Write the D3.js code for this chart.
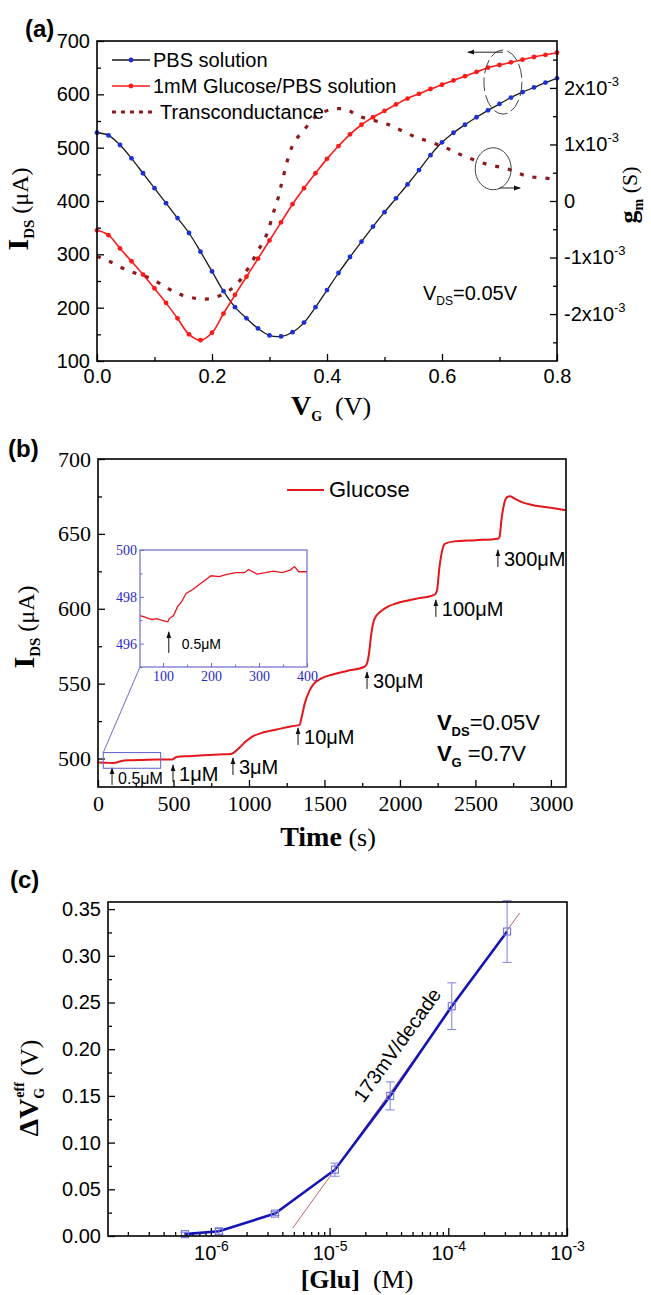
<!DOCTYPE html>
<html>
<head>
<meta charset="utf-8">
<script src="https://cdn.jsdelivr.net/npm/d3@7"></script>
<style>
  body { margin: 0; background: #fff; }
  svg text { font-family: Arial, "Liberation Sans", sans-serif; fill: #000; }
  .axis line { stroke: #000; stroke-width: 1.3; }
  .axis text { font-family: Arial, "Liberation Sans", sans-serif; font-size: 20px; }
  .axis.serif text { font-family: "Liberation Serif", "Times New Roman", serif; font-size: 22px; }
  .axis.inset line { stroke: #6c6cd0; stroke-width: 1; }
  .axis.inset text { font-family: "Liberation Serif", "Times New Roman", serif; font-size: 14px; fill: #2b2bc8; }
  .frame { fill: none; stroke: #000; stroke-width: 1.6; }
  .tnr { font-family: "Liberation Serif", "Times New Roman", serif; }
</style>
</head>
<body>
<svg id="fig" width="651" height="1295"></svg>
<script>
// ---------- panel (a) data: transfer curves ----------
var gateV = [0.00, 0.02, 0.04, 0.06, 0.08, 0.10, 0.12, 0.14, 0.16, 0.18, 0.20,
  0.22, 0.24, 0.26, 0.28, 0.30, 0.32, 0.34, 0.36, 0.38, 0.40,
  0.42, 0.44, 0.46, 0.48, 0.50, 0.52, 0.54, 0.56, 0.58, 0.60,
  0.62, 0.64, 0.66, 0.68, 0.70, 0.72, 0.74, 0.76, 0.78, 0.80]
var pbsIds = [528, 523, 505, 480, 452, 424, 396, 368, 340, 305, 268,
  231, 201, 180, 161, 148, 146, 154, 172, 201, 233,
  265, 295, 324, 352, 379, 405, 431, 458, 486, 510,
  528, 543, 557, 570, 582, 594, 604, 613, 622, 630]
var glucoseIds = [345, 336, 311, 287, 262, 236, 209, 180, 150, 139, 153,
  189, 224, 258, 292, 326, 360, 394, 424, 452, 479,
  503, 525, 543, 557, 569, 581, 592, 601, 610, 618,
  626, 634, 642, 650, 655, 660, 665, 670, 674, 678]
var gmV = [0.00, 0.02, 0.045, 0.07, 0.096, 0.122, 0.144, 0.17, 0.193, 0.219,
  0.243, 0.263, 0.28, 0.296, 0.306, 0.315, 0.323, 0.341, 0.362, 0.381,
  0.408, 0.433, 0.456, 0.504, 0.55, 0.60, 0.637, 0.678, 0.713, 0.748, 0.788, 0.80]
var gmS = [-0.98e-3, -1.06e-3, -1.19e-3, -1.29e-3, -1.38e-3, -1.54e-3, -1.65e-3, -1.72e-3, -1.73e-3, -1.65e-3,
  -1.47e-3, -1.19e-3, -0.88e-3, -0.57e-3, -0.23e-3, 0.05e-3, 0.39e-3, 1.0e-3, 1.28e-3, 1.5e-3,
  1.62e-3, 1.62e-3, 1.5e-3, 1.36e-3, 1.15e-3, 0.97e-3, 0.8e-3, 0.65e-3, 0.57e-3, 0.44e-3, 0.39e-3, 0.34e-3]
var legendA = ['PBS solution', '1mM Glucose/PBS solution', 'Transconductance']
var vgTicks = [0, 0.2, 0.4, 0.6, 0.8]
var vgMinor = [0.1, 0.3, 0.5, 0.7]
var idsTicksA = [100, 200, 300, 400, 500, 600, 700]
var idsMinorA = [150, 250, 350, 450, 550, 650]
var gmTicks = [-2e-3, -1e-3, 0, 1e-3, 2e-3]
var gmMinor = [-2.5e-3, -1.5e-3, -0.5e-3, 0.5e-3, 1.5e-3, 2.5e-3]

// ---------- panel (b) data: time response ----------
var timeS = [0, 50, 100, 115, 150, 200, 300, 400, 490, 500,
  520, 600, 700, 800, 880, 900, 940, 980, 1020, 1080,
  1130, 1200, 1300, 1335, 1350, 1370, 1400, 1430, 1480, 1550,
  1650, 1765, 1780, 1795, 1810, 1830, 1870, 1920, 1980, 2100,
  2230, 2245, 2262, 2280, 2300, 2360, 2500, 2650, 2660, 2672,
  2690, 2710, 2730, 2760, 2800, 2900, 3000, 3100]
var idsTrace = [497.3, 497.2, 497.0, 497.2, 498.2, 498.8, 499.1, 499.3, 499.3, 499.8,
  501.0, 501.6, 502.2, 502.7, 503.0, 504.0, 507.5, 511.5, 514.5, 517.0,
  518.3, 519.8, 521.8, 522.5, 528, 537, 545, 550, 553.5, 556,
  558.5, 561.3, 563, 570, 583, 593, 598, 601.5, 603.7, 606.5,
  609.5, 612, 628, 639, 643.5, 645, 645.8, 646.8, 648, 659,
  670, 674.5, 675.2, 673.5, 671.5, 668.8, 667.5, 665.8]
var insetT = [52, 61, 70, 78, 87, 96, 104, 110, 113, 122, 130, 139, 148, 161, 174,
  187, 200, 217, 235, 252, 270, 278, 296, 313, 330, 348, 365, 374, 383, 400]
var insetI = [497.2, 497.14, 497.07, 497.03, 497.07, 497.0, 496.96, 496.93, 497.07, 497.2,
  497.57, 497.8, 498.14, 498.3, 498.5, 498.7, 498.9, 498.86, 498.97, 499.03,
  499.03, 499.17, 498.97, 499.03, 499.1, 499.03, 499.14, 499.29, 499.07, 499.07]
var doses = ['0.5μM', '1μM', '3μM', '10μM', '30μM', '100μM', '300μM']
var doseT = [93, 497, 894, 1325, 1782, 2238, 2649]
var doseTip = [493.7, 495.7, 500.4, 520.4, 557.8, 605.9, 639.2]
var timeTicks = [0, 500, 1000, 1500, 2000, 2500, 3000]
var timeMinor = [250, 750, 1250, 1750, 2250, 2750]
var idsTicksB = [500, 550, 600, 650, 700]
var idsMinorB = [525, 575, 625, 675]
var insetTTicks = [100, 200, 300, 400]
var insetTMinor = [150, 250, 350]
var insetITicks = [496, 498, 500]
var insetIMinor = [495, 497, 499]

// ---------- panel (c) data: dV_G^eff vs [Glu] ----------
var gluM = [6.05e-7, 1.17e-6, 3.47e-6, 1.11e-5, 3.24e-5, 1.07e-4, 3.13e-4]
var dVeff = [0.002, 0.005, 0.024, 0.071, 0.150, 0.246, 0.326]
var dVerr = [0.002, 0.003, 0.002, 0.007, 0.015, 0.025, 0.033]
var fitM = [4.9e-6, 4.0e-4]
var fitDV = [0.0086, 0.346]
var dvTicks = [0, 0.05, 0.10, 0.15, 0.20, 0.25, 0.30, 0.35]
var dvMinor = [0.025, 0.075, 0.125, 0.175, 0.225, 0.275, 0.325]
var gluTicks = [1e-6, 1e-5, 1e-4, 1e-3]

var svg = d3.select('#fig')

var defs = svg.append('defs')
defs.append('marker').attr('id', 'head')
  .attr('viewBox', '0 0 10 10').attr('refX', 9).attr('refY', 5)
  .attr('markerWidth', 7).attr('markerHeight', 7).attr('orient', 'auto')
  .append('path').attr('d', 'M0,1.5L10,5L0,8.5Z').attr('fill', '#111')

function noDomain(g) { g.select('.domain').remove() }

function frame(g, box) {
  g.append('rect').attr('class', 'frame')
    .attr('x', box.left).attr('y', box.top)
    .attr('width', box.right - box.left).attr('height', box.bottom - box.top)
}

function withSup(text, base, sup, supSize) {
  text.text(null)
  text.append('tspan').text(base)
  text.append('tspan').attr('dy', -9).attr('font-size', supSize).text(sup)
}

function panelTag(x, y, s) {
  svg.append('text').attr('x', x).attr('y', y)
    .attr('font-size', 24).attr('font-weight', 'bold').text(s)
}

/*** PANEL (a) ***/
var A = {left: 97, right: 557, top: 41, bottom: 361}
var xA = d3.scaleLinear().domain([0, 0.8]).range([A.left, A.right])
var yA = d3.scaleLinear().domain([100, 700]).range([A.bottom, A.top])
var gmA = d3.scaleLinear().domain([-2.83e-3, 2.83e-3]).range([A.bottom, A.top])
var pa = svg.append('g')

pa.append('g').attr('class', 'axis').attr('transform', 'translate(0,' + A.bottom + ')')
  .call(d3.axisBottom(xA).tickValues(vgTicks).tickSize(-7).tickPadding(8).tickFormat(d3.format('.1f')))
  .call(noDomain)
pa.append('g').attr('class', 'axis').attr('transform', 'translate(0,' + A.bottom + ')')
  .call(d3.axisBottom(xA).tickValues(vgMinor).tickSize(-4).tickFormat(''))
  .call(noDomain)
pa.append('g').attr('class', 'axis').attr('transform', 'translate(' + A.left + ',0)')
  .call(d3.axisLeft(yA).tickValues(idsTicksA).tickSize(-7).tickPadding(7))
  .call(noDomain)
pa.append('g').attr('class', 'axis').attr('transform', 'translate(' + A.left + ',0)')
  .call(d3.axisLeft(yA).tickValues(idsMinorA).tickSize(-4).tickFormat(''))
  .call(noDomain)
pa.append('g').attr('class', 'axis').attr('transform', 'translate(' + A.right + ',0)')
  .call(d3.axisRight(gmA).tickValues(gmTicks).tickSize(-7).tickPadding(7)
    .tickFormat(function(d) { return d === 0 ? '0' : '' }))
  .call(noDomain)
  .selectAll('.tick text').each(function(d) {
    if (d !== 0) withSup(d3.select(this), Math.round(d * 1e3) + 'x10', '-3', 13)
  })
pa.append('g').attr('class', 'axis').attr('transform', 'translate(' + A.right + ',0)')
  .call(d3.axisRight(gmA).tickValues(gmMinor).tickSize(-4).tickFormat(''))
  .call(noDomain)

var pbsPts = gateV.map(function(v, i) { return [v, pbsIds[i]] })
var gluPts = gateV.map(function(v, i) { return [v, glucoseIds[i]] })
var gmPts = gmV.map(function(v, i) { return [v, gmS[i]] })

// transconductance (dotted)
pa.append('path').datum(gmPts)
  .attr('d', d3.line().curve(d3.curveCatmullRom).x(function(d) { return xA(d[0]) }).y(function(d) { return gmA(d[1]) }))
  .attr('fill', 'none').attr('stroke', '#8b1a1a').attr('stroke-width', 3.2)
  .attr('stroke-dasharray', '4,9')

var lineA = d3.line().curve(d3.curveCatmullRom)
  .x(function(d) { return xA(d[0]) }).y(function(d) { return yA(d[1]) })

pa.append('path').datum(pbsPts).attr('d', lineA)
  .attr('fill', 'none').attr('stroke', '#1a1a1a').attr('stroke-width', 1.3)
pa.append('g').selectAll('circle').data(pbsPts).join('circle')
  .attr('cx', function(d) { return xA(d[0]) }).attr('cy', function(d) { return yA(d[1]) })
  .attr('r', 2.4).attr('fill', '#1c2fd6')

pa.append('path').datum(gluPts).attr('d', lineA)
  .attr('fill', 'none').attr('stroke', '#ff1a1a').attr('stroke-width', 1.6)
pa.append('g').selectAll('circle').data(gluPts).join('circle')
  .attr('cx', function(d) { return xA(d[0]) }).attr('cy', function(d) { return yA(d[1]) })
  .attr('r', 2.4).attr('fill', '#ff1a1a')

// legend
var legA = pa.append('g')
legendA.forEach(function(name, i) {
  var ly = A.top + 19 + i * 26
  var x1 = A.left + 15, x2 = i === 2 ? A.left + 60 : A.left + 53
  var row = legA.append('g')
  if (i === 2) {
    row.append('line').attr('x1', x1).attr('x2', x2).attr('y1', ly).attr('y2', ly)
      .attr('stroke', '#8b1a1a').attr('stroke-width', 3.2).attr('stroke-dasharray', '4,5')
  } else {
    row.append('line').attr('x1', x1).attr('x2', x2).attr('y1', ly).attr('y2', ly)
      .attr('stroke', i === 0 ? '#1a1a1a' : '#ff1a1a').attr('stroke-width', 1.5)
    row.append('circle').attr('cx', (x1 + x2) / 2).attr('cy', ly).attr('r', 2.4)
      .attr('fill', i === 0 ? '#1c2fd6' : '#ff1a1a')
  }
  row.append('text').attr('x', x2 + 3).attr('y', ly + 7).attr('font-size', 20).text(name)
})

// circle + arrow annotations
pa.append('ellipse').attr('cx', xA(0.706)).attr('cy', yA(623)).attr('rx', 19).attr('ry', 32)
  .attr('fill', 'none').attr('stroke', '#444').attr('stroke-width', 1).attr('stroke-dasharray', '14,4')
pa.append('line').attr('x1', xA(0.706)).attr('x2', xA(0.645)).attr('y1', yA(679)).attr('y2', yA(679))
  .attr('stroke', '#222').attr('stroke-width', 1).attr('marker-end', 'url(#head)')
pa.append('ellipse').attr('cx', xA(0.689)).attr('cy', gmA(0.57e-3)).attr('rx', 18).attr('ry', 21)
  .attr('fill', 'none').attr('stroke', '#444').attr('stroke-width', 1)
pa.append('line').attr('x1', xA(0.700)).attr('x2', xA(0.736)).attr('y1', gmA(0.23e-3)).attr('y2', gmA(0.23e-3))
  .attr('stroke', '#222').attr('stroke-width', 1).attr('marker-end', 'url(#head)')

var vdsA = pa.append('text').attr('x', xA(0.567)).attr('y', yA(214)).attr('font-size', 20)
vdsA.append('tspan').text('V')
vdsA.append('tspan').attr('font-size', 12).attr('dy', 5).text('DS')
vdsA.append('tspan').attr('dy', -5).text('=0.05V')

frame(pa, A)

// axis titles
var xtA = pa.append('text').attr('class', 'tnr').attr('x', 331).attr('y', 415).attr('text-anchor', 'middle')
xtA.append('tspan').attr('font-size', 28).attr('font-weight', 'bold').text('V')
xtA.append('tspan').attr('font-size', 14).attr('font-weight', 'bold').attr('dy', 6).text('G')
xtA.append('tspan').attr('font-size', 26).attr('dy', -6).text('\u00a0\u00a0(V)')

var ytA = pa.append('text').attr('class', 'tnr').attr('text-anchor', 'middle')
  .attr('transform', 'translate(28,' + ((A.top + A.bottom) / 2 + 8) + ') rotate(-90)')
ytA.append('tspan').attr('font-size', 30).attr('font-weight', 'bold').text('I')
ytA.append('tspan').attr('font-size', 15).attr('font-weight', 'bold').attr('dy', 6).text('DS')
ytA.append('tspan').attr('font-size', 24).attr('dy', -6).text('\u00a0(μA)')

var gtA = pa.append('text').attr('class', 'tnr').attr('text-anchor', 'middle')
  .attr('transform', 'translate(637,' + ((A.top + A.bottom) / 2 - 6) + ') rotate(-90)')
gtA.append('tspan').attr('font-size', 26).attr('font-weight', 'bold').text('g')
gtA.append('tspan').attr('font-size', 14).attr('font-weight', 'bold').attr('dy', 6).text('m')
gtA.append('tspan').attr('font-size', 22).attr('dy', -6).text('\u00a0(S)')

panelTag(25, 37, '(a)')

/*** PANEL (b) ***/
var B = {left: 98, right: 566, top: 459, bottom: 787}
var xB = d3.scaleLinear().domain([0, 3100]).range([B.left, B.right])
var yB = d3.scaleLinear().domain([481, 700]).range([B.bottom, B.top])
var pb = svg.append('g')

pb.append('g').attr('class', 'axis serif').attr('transform', 'translate(0,' + B.bottom + ')')
  .call(d3.axisBottom(xB).tickValues(timeTicks).tickSize(-7).tickPadding(8).tickFormat(d3.format('d')))
  .call(noDomain)
pb.append('g').attr('class', 'axis').attr('transform', 'translate(0,' + B.bottom + ')')
  .call(d3.axisBottom(xB).tickValues(timeMinor).tickSize(-4).tickFormat(''))
  .call(noDomain)
pb.append('g').attr('class', 'axis serif').attr('transform', 'translate(' + B.left + ',0)')
  .call(d3.axisLeft(yB).tickValues(idsTicksB).tickSize(-7).tickPadding(7))
  .call(noDomain)
pb.append('g').attr('class', 'axis').attr('transform', 'translate(' + B.left + ',0)')
  .call(d3.axisLeft(yB).tickValues(idsMinorB).tickSize(-4).tickFormat(''))
  .call(noDomain)

var tracePts = timeS.map(function(t, i) { return [t, idsTrace[i]] })
pb.append('path').datum(tracePts)
  .attr('d', d3.line().curve(d3.curveMonotoneX).x(function(d) { return xB(d[0]) }).y(function(d) { return yB(d[1]) }))
  .attr('fill', 'none').attr('stroke', '#e3161c').attr('stroke-width', 2)

// legend
pb.append('line').attr('x1', B.left + 189).attr('x2', B.left + 226)
  .attr('y1', B.top + 31).attr('y2', B.top + 31).attr('stroke', '#e3161c').attr('stroke-width', 2)
pb.append('text').attr('x', B.left + 231).attr('y', B.top + 38).attr('font-size', 22).text('Glucose')

// dose arrows
doses.forEach(function(lab, i) {
  var ax = xB(doseT[i]), tip = yB(doseTip[i]), base = tip + 17
  pb.append('line').attr('x1', ax).attr('x2', ax).attr('y1', base).attr('y2', tip)
    .attr('stroke', '#111').attr('stroke-width', 1).attr('marker-end', 'url(#head)')
  pb.append('text').attr('x', ax + 6).attr('y', base - 1)
    .attr('font-size', i === 0 ? 16 : 20).text(lab)
})

// bias conditions
var vdsB = pb.append('text').attr('x', xB(2245)).attr('y', yB(519)).attr('font-size', 22)
vdsB.append('tspan').attr('font-weight', 'bold').text('V')
vdsB.append('tspan').attr('font-weight', 'bold').attr('font-size', 13).attr('dy', 6).text('DS')
vdsB.append('tspan').attr('dy', -6).text('=0.05V')
var vgB = pb.append('text').attr('x', xB(2245)).attr('y', yB(498.4)).attr('font-size', 22)
vgB.append('tspan').attr('font-weight', 'bold').text('V')
vgB.append('tspan').attr('font-weight', 'bold').attr('font-size', 13).attr('dy', 6).text('G')
vgB.append('tspan').attr('dy', -6).text('\u00a0=0.7V')

// zoom box and inset
var Ib = {left: 140, right: 307, top: 550, bottom: 667}
var xI = d3.scaleLinear().domain([52, 400]).range([Ib.left, Ib.right])
var yI = d3.scaleLinear().domain([495, 500]).range([Ib.bottom, Ib.top])

pb.append('rect').attr('x', xB(35)).attr('y', yB(504)).attr('width', xB(415) - xB(35))
  .attr('height', yB(493.5) - yB(504)).attr('fill', 'none').attr('stroke', '#6c6cd0').attr('stroke-width', 1.1)
pb.append('line').attr('x1', xB(35)).attr('y1', yB(504)).attr('x2', Ib.left).attr('y2', Ib.bottom)
  .attr('stroke', '#6c6cd0').attr('stroke-width', 1)

var pi = pb.append('g')
pi.append('g').attr('class', 'axis inset').attr('transform', 'translate(0,' + Ib.bottom + ')')
  .call(d3.axisBottom(xI).tickValues(insetTTicks).tickSize(-4).tickPadding(4).tickFormat(d3.format('d')))
  .call(noDomain)
pi.append('g').attr('class', 'axis inset').attr('transform', 'translate(0,' + Ib.bottom + ')')
  .call(d3.axisBottom(xI).tickValues(insetTMinor).tickSize(-2.5).tickFormat(''))
  .call(noDomain)
pi.append('g').attr('class', 'axis inset').attr('transform', 'translate(' + Ib.left + ',0)')
  .call(d3.axisLeft(yI).tickValues(insetITicks).tickSize(-4).tickPadding(3).tickFormat(d3.format('d')))
  .call(noDomain)
pi.append('g').attr('class', 'axis inset').attr('transform', 'translate(' + Ib.left + ',0)')
  .call(d3.axisLeft(yI).tickValues(insetIMinor).tickSize(-2.5).tickFormat(''))
  .call(noDomain)

var insetPts = insetT.map(function(t, i) { return [t, insetI[i]] })
pi.append('path').datum(insetPts)
  .attr('d', d3.line().x(function(d) { return xI(d[0]) }).y(function(d) { return yI(d[1]) }))
  .attr('fill', 'none').attr('stroke', '#e3161c').attr('stroke-width', 1.3)
pi.append('line').attr('x1', xI(112)).attr('x2', xI(112)).attr('y1', yI(495.6)).attr('y2', yI(496.5))
  .attr('stroke', '#111').attr('stroke-width', 1).attr('marker-end', 'url(#head)')
pi.append('text').attr('x', xI(112) + 13).attr('y', yI(495.6) - 4).attr('font-size', 14).text('0.5μM')
pi.append('rect').attr('x', Ib.left).attr('y', Ib.top).attr('width', Ib.right - Ib.left)
  .attr('height', Ib.bottom - Ib.top).attr('fill', 'none').attr('stroke', '#6c6cd0').attr('stroke-width', 1.2)

frame(pb, B)

var xtB = pb.append('text').attr('class', 'tnr').attr('x', 328).attr('y', 846).attr('text-anchor', 'middle')
xtB.append('tspan').attr('font-size', 28).attr('font-weight', 'bold').text('Time')
xtB.append('tspan').attr('font-size', 26).text('\u00a0(s)')

var ytB = pb.append('text').attr('class', 'tnr').attr('text-anchor', 'middle')
  .attr('transform', 'translate(34,' + ((B.top + B.bottom) / 2 + 4) + ') rotate(-90)')
ytB.append('tspan').attr('font-size', 30).attr('font-weight', 'bold').text('I')
ytB.append('tspan').attr('font-size', 15).attr('font-weight', 'bold').attr('dy', 6).text('DS')
ytB.append('tspan').attr('font-size', 24).attr('dy', -6).text('\u00a0(μA)')

panelTag(8, 457, '(b)')

/*** PANEL (c) ***/
var C = {left: 108, right: 567, top: 902, bottom: 1236}
var xC = d3.scaleLog().domain([1.36e-7, 1e-3]).range([C.left, C.right])
var yC = d3.scaleLinear().domain([0, 0.3576]).range([C.bottom, C.top])
var pc = svg.append('g')

var gluMinor = []
;[-7, -6, -5, -4].forEach(function(n) {
  for (var k = 2; k <= 9; k++) {
    var v = k * Math.pow(10, n)
    if (v > 1.36e-7 && v < 1e-3) gluMinor.push(v)
  }
})

pc.append('g').attr('class', 'axis').attr('transform', 'translate(0,' + C.bottom + ')')
  .call(d3.axisBottom(xC).tickValues(gluTicks).tickSize(-8).tickPadding(10).tickFormat(function() { return '' }))
  .call(noDomain)
  .selectAll('.tick text').each(function(d) {
    withSup(d3.select(this), '10', String(Math.round(Math.log10(d))), 14)
  })
pc.append('g').attr('class', 'axis').attr('transform', 'translate(0,' + C.bottom + ')')
  .call(d3.axisBottom(xC).tickValues(gluMinor).tickSize(-4).tickFormat(''))
  .call(noDomain)
pc.append('g').attr('class', 'axis').attr('transform', 'translate(' + C.left + ',0)')
  .call(d3.axisLeft(yC).tickValues(dvTicks).tickSize(-7).tickPadding(7).tickFormat(d3.format('.2f')))
  .call(noDomain)
pc.append('g').attr('class', 'axis').attr('transform', 'translate(' + C.left + ',0)')
  .call(d3.axisLeft(yC).tickValues(dvMinor).tickSize(-4).tickFormat(''))
  .call(noDomain)

// linear fit
pc.append('line').attr('x1', xC(fitM[0])).attr('y1', yC(fitDV[0]))
  .attr('x2', xC(fitM[1])).attr('y2', yC(fitDV[1]))
  .attr('stroke', '#b46a6a').attr('stroke-width', 1)

var cPts = gluM.map(function(m, i) { return {m: m, v: dVeff[i], e: dVerr[i]} })
pc.append('path').datum(cPts)
  .attr('d', d3.line().x(function(d) { return xC(d.m) }).y(function(d) { return yC(d.v) }))
  .attr('fill', 'none').attr('stroke', '#1515b5').attr('stroke-width', 2.6)

var eb = pc.append('g').attr('stroke', '#7f7fe0').attr('stroke-width', 1)
eb.selectAll('line.bar').data(cPts).join('line').attr('class', 'bar')
  .attr('x1', function(d) { return xC(d.m) }).attr('x2', function(d) { return xC(d.m) })
  .attr('y1', function(d) { return yC(d.v - d.e) }).attr('y2', function(d) { return yC(d.v + d.e) })
eb.selectAll('line.capT').data(cPts).join('line').attr('class', 'capT')
  .attr('x1', function(d) { return xC(d.m) - 4.5 }).attr('x2', function(d) { return xC(d.m) + 4.5 })
  .attr('y1', function(d) { return yC(d.v + d.e) }).attr('y2', function(d) { return yC(d.v + d.e) })
eb.selectAll('line.capB').data(cPts).join('line').attr('class', 'capB')
  .attr('x1', function(d) { return xC(d.m) - 4.5 }).attr('x2', function(d) { return xC(d.m) + 4.5 })
  .attr('y1', function(d) { return yC(d.v - d.e) }).attr('y2', function(d) { return yC(d.v - d.e) })
pc.append('g').selectAll('rect').data(cPts).join('rect')
  .attr('x', function(d) { return xC(d.m) - 3.5 }).attr('y', function(d) { return yC(d.v) - 3.5 })
  .attr('width', 7).attr('height', 7)
  .attr('fill', 'none').attr('stroke', '#7373dc').attr('stroke-width', 1.1)

var fitAngle = Math.atan2(yC(fitDV[1]) - yC(fitDV[0]), xC(fitM[1]) - xC(fitM[0])) * 180 / Math.PI
pc.append('text').attr('text-anchor', 'middle').attr('font-size', 20)
  .attr('transform', 'translate(' + xC(3.7e-5) + ',' + yC(0.2045) + ') rotate(' + fitAngle + ')')
  .attr('dy', '0.35em').text('173mV/decade')

frame(pc, C)

var xtC = pc.append('text').attr('class', 'tnr').attr('x', 357).attr('y', 1288).attr('text-anchor', 'middle')
xtC.append('tspan').attr('font-size', 26).attr('font-weight', 'bold').text('[Glu]')
xtC.append('tspan').attr('font-size', 26).text('\u00a0\u00a0(M)')

var ytC = pc.append('text').attr('class', 'tnr').attr('text-anchor', 'middle')
  .attr('transform', 'translate(38,1088) rotate(-90)')
ytC.append('tspan').attr('font-size', 28).attr('font-weight', 'bold').text('ΔV')
ytC.append('tspan').attr('font-size', 14).attr('font-weight', 'bold').attr('dy', 6).text('G')
ytC.append('tspan').attr('font-size', 14).attr('font-weight', 'bold').attr('dx', -10).attr('dy', -20).text('eff')
ytC.append('tspan').attr('font-size', 26).attr('dy', 14).text('\u00a0(V)')

panelTag(10, 888, '(c)')
</script>
</body>
</html>
